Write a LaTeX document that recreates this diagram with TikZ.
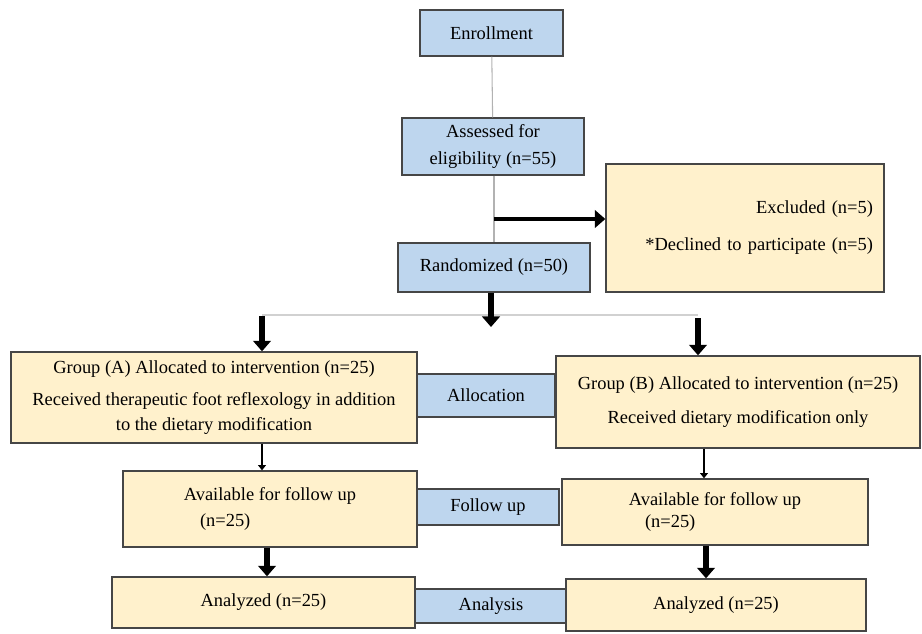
\documentclass[tikz,border=0pt]{standalone}
\usepackage{fontspec}
\setmainfont{Liberation Serif}
\usetikzlibrary{arrows.meta}

\definecolor{boxblue}{RGB}{190,214,238}
\definecolor{boxcream}{RGB}{255,241,204}
\definecolor{boxline}{RGB}{70,70,70}

\begin{document}
\begin{tikzpicture}[x=0.02cm,y=-0.02cm,
  box/.style={draw=boxline,line width=0.8pt,inner sep=2pt,align=center,
    font=\fontsize{10.5}{15}\selectfont},
  stage/.style={box,fill=boxblue},
  arm/.style={box,fill=boxcream},
  link/.style={draw=black!30,line width=0.6pt},
  split/.style={draw=black!18,line width=1.6pt},
  bigarrow/.style={line width=3.2pt,arrows={-Triangle[width=10pt,length=6pt]}},
  smallarrow/.style={line width=1.2pt,arrows={-Triangle[width=4.5pt,length=3pt]}}]
  \useasboundingbox (0,0) rectangle (922,633);

  % top column
  \node[stage,minimum width=2.86cm,minimum height=0.92cm] (enrol) at (491.5,33) {Enrollment};
  \node[stage,minimum width=3.64cm,minimum height=1.14cm] (assess) at (493,146.5) {Assessed for\\eligibility (n=55)};
  \node[stage,minimum width=3.84cm,minimum height=0.98cm] (rand) at (494,267.5) {Randomized (n=50)};
  \node[arm,minimum width=5.56cm,minimum height=2.56cm,inner xsep=0.22cm,text width=5.12cm,align=right] (excl) at (745,228)
    {Excluded (n=5)\\[6pt]*Declined to participate (n=5)};

  % allocation
  \node[arm,minimum width=8.12cm,minimum height=1.82cm] (grpA) at (214,397.5)
    {Group (A) Allocated to intervention (n=25)\\[3pt]Received therapeutic foot reflexology in addition\\[-1pt]to the dietary modification};
  \node[stage,minimum width=2.76cm,minimum height=0.86cm] (alloc) at (486,395.5) {Allocation};
  \node[arm,minimum width=7.28cm,minimum height=1.84cm] (grpB) at (738,402)
    {Group (B) Allocated to intervention (n=25)\\[4pt]Received dietary modification only};

  % follow up
  \node[arm,minimum width=5.88cm,minimum height=1.52cm] (availA) at (270,509)
    {Available for follow up\\(n=25)\hspace*{51pt}};
  \node[stage,minimum width=2.84cm,minimum height=0.72cm] (follow) at (488,507) {Follow up};
  \node[arm,minimum width=6.12cm,minimum height=1.32cm] (availB) at (715,512)
    {Available for follow up\\[-2pt](n=25)\hspace*{51pt}};

  % analysis
  \node[arm,minimum width=6.06cm,minimum height=1.02cm] (anaA) at (263.5,602.5) {Analyzed (n=25)};
  \node[stage,minimum width=3.04cm,minimum height=0.68cm] (analysis) at (491,606) {Analysis};
  \node[arm,minimum width=6.0cm,minimum height=1.04cm] (anaB) at (716,605) {Analyzed (n=25)};

  \coordinate (out) at (494,219);
  \coordinate (fork) at (491,315);
  \coordinate (forkA) at (262,315);
  \coordinate (forkB) at (698,315);

  \draw[link] (enrol) -- (assess);
  \draw[link] (assess.south -| out) -- (rand.north -| out);
  \draw[bigarrow,line width=2.6pt] (out) -- (excl.west |- out);
  \draw[split] (forkA) -- (forkB);
  \draw[bigarrow] (rand.south -| fork) -- ([yshift=-0.24cm]fork);
  \draw[bigarrow] ([yshift=-0.02cm]forkA) -- (grpA.north -| forkA);
  \draw[bigarrow] ([yshift=-0.06cm]forkB) -- (grpB.north -| forkB);

  \draw[smallarrow] (grpA.south -| 262,0) -- (availA.north -| 262,0);
  \draw[smallarrow] (grpB.south -| 704,0) -- (availB.north -| 704,0);
  \draw[bigarrow] (availA.south -| 267,0) -- (anaA.north -| 267,0);
  \draw[bigarrow] (availB.south -| 706,0) -- (anaB.north -| 706,0);
\end{tikzpicture}
\end{document}
